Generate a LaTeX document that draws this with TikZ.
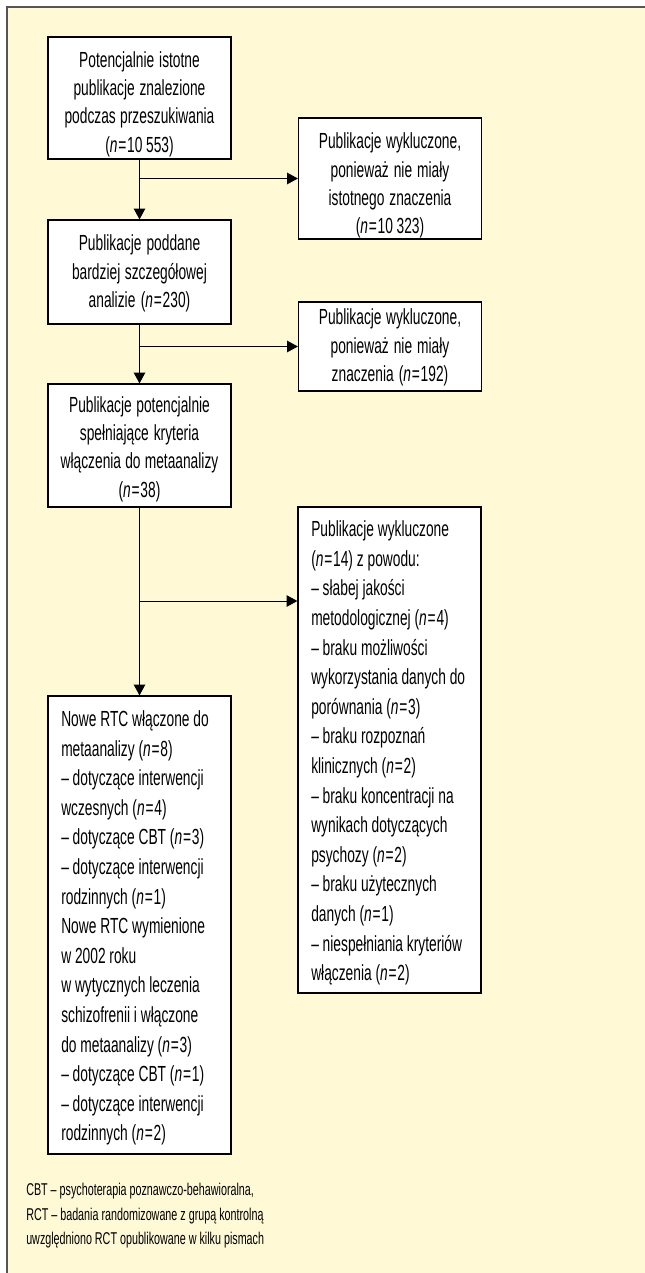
\documentclass[tikz,border=0pt]{standalone}
\usepackage{fontspec}
\setmainfont{Liberation Sans}[FakeStretch=0.63]
\usetikzlibrary{arrows.meta}
\definecolor{bgyellow}{HTML}{FFF9D6}
\definecolor{framegray}{HTML}{555555}
\newcommand{\nn}[1]{\textit{n}\kern0.6pt=\kern0.6pt#1}
\newcommand{\fixsp}{\spaceskip=0pt\xspaceskip=0pt\relax}
\begin{document}
\begin{tikzpicture}[x=0.75pt,y=-0.75pt,
  boxonly/.style={draw=black,line width=0.9pt,fill=white,minimum width=137.25pt,inner sep=0pt},
  ctext/.style={font=\fontsize{16.4pt}{21.2pt}\selectfont,text width=130pt,align=center,inner sep=0pt},
  ltext/.style={font=\fontsize{16.4pt}{22.2pt}\selectfont,text width=124pt,align=left,inner sep=0pt,anchor=west},
  arr/.style={line width=0.75pt,-{Triangle[length=8pt,width=8.5pt]}}]
\useasboundingbox (0,0) rectangle (645,1273);
\fill[white] (-5,-5) rectangle (650,1280);
\fill[bgyellow] (7,7) rectangle (650,1280);
\draw[framegray,line width=1.1pt] (650,7) -- (7,7) -- (7,1280);

% boxes
\node[boxonly,minimum height=91.5pt] (b1) at (139.5,98) {};
\node[boxonly,minimum height=90.75pt] (b2) at (390,178.5) {};
\node[boxonly,minimum height=78pt] (b3) at (139.5,272) {};
\node[boxonly,minimum height=66.75pt] (b4) at (390,346.5) {};
\node[boxonly,minimum height=92.25pt] (b5) at (139.5,445.5) {};
\node[boxonly,minimum height=364.5pt] (b6) at (389.5,750) {};
\node[boxonly,minimum height=343.5pt] (b7) at (139.5,925) {};

% texts
\node[ctext] (t1) at (139.5,104) {\fixsp Potencjalnie istotne\\publikacje znalezione\\podczas przeszukiwania\\(\nn{10\,553})};
\node[ctext] (t2) at (390,185.5) {\fixsp Publikacje wykluczone,\\ponieważ nie miały\\istotnego znaczenia\\(\nn{10\,323})};
\node[ctext] (t3) at (139.5,273.5) {\fixsp Publikacje poddane\\bardziej szczegółowej\\analizie (\nn{230})};
\node[ctext] (t4) at (390,347.5) {\fixsp Publikacje wykluczone,\\ponieważ nie miały\\znaczenia (\nn{192})};
\node[ctext] (t5) at (139.5,449) {\fixsp Publikacje potencjalnie\\spełniające kryteria\\włączenia do metaanalizy\\(\nn{38})};
\node[ltext] (t6) at (311,753) {\fixsp Publikacje wykluczone\\(\nn{14}) z powodu:\\– słabej jakości\\metodologicznej (\nn{4})\\– braku możliwości\\wykorzystania danych do\\porównania (\nn{3})\\– braku rozpoznań\\klinicznych (\nn{2})\\– braku koncentracji na\\wynikach dotyczących\\psychozy (\nn{2})\\– braku użytecznych\\danych (\nn{1})\\– niespełniania kryteriów\\włączenia (\nn{2})};
\node[ltext] (t7) at (61,928) {\fixsp Nowe RTC włączone do\\metaanalizy (\nn{8})\\– dotyczące interwencji\\wczesnych (\nn{4})\\– dotyczące CBT (\nn{3})\\– dotyczące interwencji\\rodzinnych (\nn{1})\\Nowe RTC wymienione\\w 2002 roku\\w wytycznych leczenia\\schizofrenii i włączone\\do metaanalizy (\nn{3})\\– dotyczące CBT (\nn{1})\\– dotyczące interwencji\\rodzinnych (\nn{2})};

% connectors
\draw[arr] (b1.south) -- (b3.north);
\draw[arr] (b1.south |- b2.west) -- (b2.west);
\draw[arr] (b3.south) -- (b5.north);
\draw[arr] (b3.south |- b4.west) -- (b4.west);
\coordinate (j3) at (139.5,601);
\draw[arr] (b5.south) -- (b7.north);
\draw[arr] (j3) -- (j3 -| b6.west);

\node[anchor=north west,align=left,inner sep=0pt,font=\fontsize{12.8pt}{18.4pt}\selectfont] (fn) at (26,1183) {\fixsp CBT – psychoterapia poznawczo-behawioralna,\\RCT – badania randomizowane z grupą kontrolną\\uwzględniono RCT opublikowane w kilku pismach};
\end{tikzpicture}
\end{document}
